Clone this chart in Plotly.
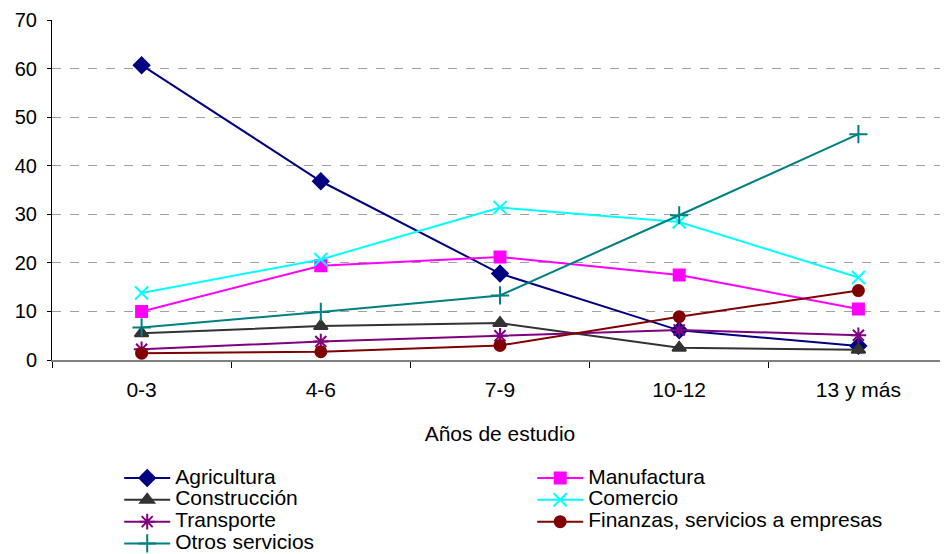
import plotly.graph_objects as go

categories = ["0-3", "4-6", "7-9", "10-12", "13 y más"]
agricultura = [60.7, 36.8, 17.8, 6.1, 2.9]
manufactura = [10.0, 19.4, 21.2, 17.5, 10.5]
construccion = [5.5, 7.0, 7.6, 2.5, 2.1]
comercio = [13.8, 20.7, 31.4, 28.4, 17.0]
transporte = [2.2, 3.8, 5.0, 6.2, 5.1]
finanzas = [1.4, 1.7, 3.0, 8.9, 14.3]
otros = [6.7, 9.9, 13.3, 29.8, 46.5]

series = [
    ("Agricultura", agricultura, "#000080", "diamond", 12),
    ("Manufactura", manufactura, "#FF00FF", "square", 11),
    ("Construcción", construccion, "#333333", "triangle-up", 12),
    ("Comercio", comercio, "#00FFFF", "x-thin-open", 13),
    ("Transporte", transporte, "#800080", "asterisk-open", 13),
    ("Finanzas, servicios a empresas", finanzas, "#800000", "circle", 11),
    ("Otros servicios", otros, "#008080", "cross-thin-open", 13),
]

fig = go.Figure()
for name, vals, color, sym, size in series:
    fig.add_trace(go.Scatter(
        x=categories, y=vals,
        name="<span style='font-size:21px'>" + name + "</span>",
        mode="lines+markers",
        line=dict(color=color, width=2),
        marker=dict(symbol=sym, size=size, color=color,
                    line=dict(color=color, width=2)),
    ))

fig.update_layout(
    width=940, height=546,
    margin=dict(l=44, r=0, t=12, b=194, autoexpand=False),
    paper_bgcolor="white", plot_bgcolor="white",
    font=dict(family="Liberation Sans, Arial, sans-serif", size=21, color="black"),
    showlegend=True,
    legend=dict(
        orientation="h", x=0.075, y=-0.30, xanchor="left", yanchor="top",
        entrywidth=352, entrywidthmode="pixels",
        font=dict(size=14.5), tracegroupgap=0, itemwidth=46,
        bgcolor="rgba(0,0,0,0)",
    ),
)
fig.update_xaxes(
    type="category", range=[-0.5, 4.5],
    showline=True, linecolor="#808080", linewidth=2,
    ticks="outside", tickson="boundaries", ticklen=6, tickcolor="black",
    showgrid=False, ticklabelstandoff=10,
    tickfont=dict(size=21),
    title=dict(text="Años de estudio", standoff=26, font=dict(size=21)),
)
fig.update_yaxes(
    range=[0, 70], dtick=10,
    showline=True, linecolor="black", linewidth=1,
    ticks="outside", ticklen=4, tickcolor="black",
    showgrid=True, gridcolor="#a0a0a0", griddash="dash", gridwidth=1,
    zeroline=False, tickfont=dict(size=20), ticklabelstandoff=6,
)

fig.write_html("out.html")
